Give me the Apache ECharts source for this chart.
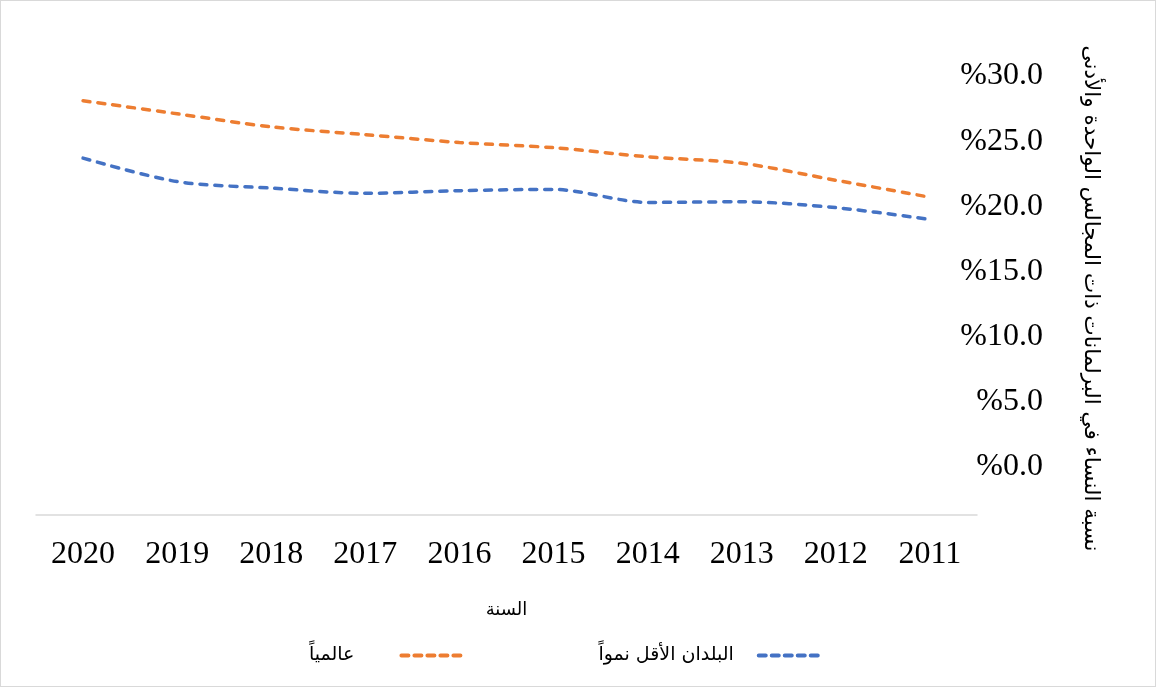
<!DOCTYPE html>
<html>
<head>
<meta charset="utf-8">
<script src="https://cdn.jsdelivr.net/npm/echarts@6/dist/echarts.min.js"></script>
<style>
  html, body { margin: 0; padding: 0; background: #fff; }
  #chart { width: 1154px; height: 685px; border: 1px solid #d9d9d9; }
</style>
</head>
<body>
<div id="chart"></div>
<script>
  // years, reversed (RTL chart: 2020 on the left)
  const years = ['2020', '2019', '2018', '2017', '2016', '2015', '2014', '2013', '2012', '2011'];
  // share of women in parliament, %
  const worldValues = [28.1, 27.1, 26.1, 25.5, 24.9, 24.5, 23.8, 23.3, 22.0, 20.7];
  const ldcValues = [23.7, 21.9, 21.4, 21.0, 21.2, 21.3, 20.3, 20.35, 19.9, 19.0];
  const worldName = 'عالمياً';
  const ldcName = 'البلدان الأقل نمواً';

  const serif = "'Liberation Serif', 'DejaVu Serif', serif";
  const arabic = "'DejaVu Sans', 'Noto Sans', sans-serif";

  let chart = echarts.init(document.getElementById('chart'));

  let lineBase = {
    type: 'line',
    smooth: 0.3,
    symbol: 'none',
    lineStyle: {
      width: 3.5,
      type: [7, 8],
      cap: 'round'
    }
  };

  let option = {
    animation: false,
    grid: {
      top: 75,
      bottom: 219,
      left: 35,
      right: 178
    },
    legend: {
      bottom: 16,
      left: 303,
      align: 'right',
      itemWidth: 64,
      itemHeight: 14,
      itemGap: 131,
      data: [
        { name: worldName, textStyle: { padding: [0, 42, 0, 0] } },
        { name: ldcName, textStyle: { padding: [0, 20, 0, 0] } }
      ],
      itemStyle: { opacity: 0 },
      lineStyle: { width: 4, type: [7, 6], cap: 'round' },
      textStyle: {
        fontFamily: arabic,
        fontSize: 19,
        color: '#000'
      }
    },
    xAxis: {
      type: 'category',
      data: years,
      boundaryGap: true,
      offset: 48,
      name: 'السنة',
      nameLocation: 'middle',
      nameGap: 86,
      nameTextStyle: {
        fontFamily: arabic,
        fontSize: 18,
        color: '#000'
      },
      axisLine: { show: true, onZero: false, lineStyle: { color: '#d9d9d9', width: 1.5 } },
      axisTick: { show: false },
      axisLabel: {
        margin: 24,
        fontFamily: serif,
        fontSize: 32,
        color: '#000'
      },
      splitLine: { show: false }
    },
    yAxis: {
      type: 'value',
      position: 'right',
      min: 0,
      max: 30,
      interval: 5,
      name: 'نسبة النساء في البرلمانات ذات المجالس الواحدة والأدنى',
      nameLocation: 'middle',
      nameRotate: -90,
      nameGap: 103,
      nameTextStyle: {
        fontFamily: arabic,
        fontSize: 21.5,
        color: '#000',
        padding: [0, 0, 0, 54]
      },
      axisLine: { show: false },
      axisTick: { show: false },
      splitLine: { show: false },
      axisLabel: {
        align: 'right',
        margin: 66,
        fontFamily: serif,
        fontSize: 32,
        color: '#000',
        formatter: function (value) {
          return '%' + value.toFixed(1);
        }
      }
    },
    series: []
  };

  let worldLine = echarts.util.clone(lineBase);
  worldLine.name = worldName;
  worldLine.data = worldValues;
  worldLine.lineStyle.color = '#ED7D31';
  worldLine.itemStyle = { color: '#ED7D31' };

  let ldcLine = echarts.util.clone(lineBase);
  ldcLine.name = ldcName;
  ldcLine.data = ldcValues;
  ldcLine.lineStyle.color = '#4472C4';
  ldcLine.itemStyle = { color: '#4472C4' };

  option.series.push(worldLine, ldcLine);
  chart.setOption(option);
</script>
</body>
</html>
